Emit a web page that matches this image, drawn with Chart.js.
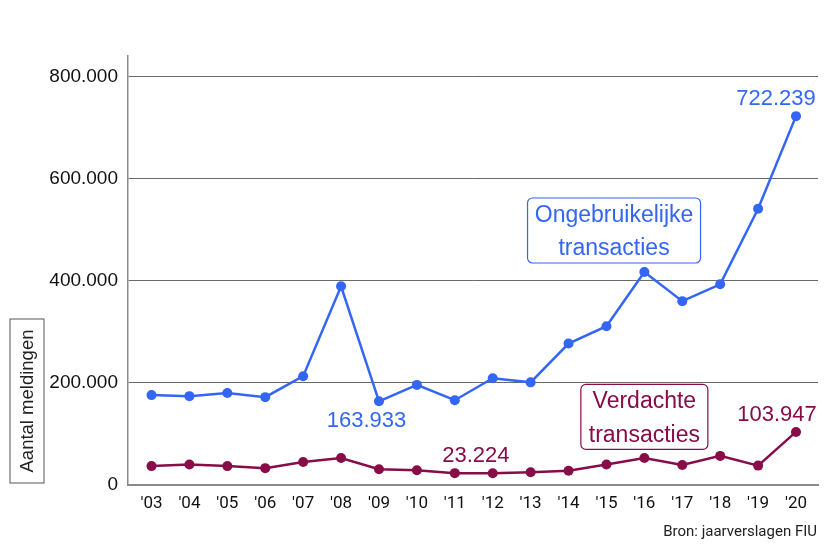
<!doctype html>
<html lang="nl">
  <head>
    <meta charset="utf-8">
    <title>Meldingen FIU</title>
    <style>
      html, body { margin: 0; padding: 0; background: #fff; }
      #wrap { width: 830px; height: 551px; position: relative; }
    </style>
  </head>
  <body>
    <div id="wrap"><canvas id="myChart"></canvas></div>

    <script src="https://cdn.jsdelivr.net/npm/chart.js@4/dist/chart.umd.min.js"></script>
    <script>
        var years = ["'03", "'04", "'05", "'06", "'07", "'08", "'09", "'10", "'11", "'12",
                     "'13", "'14", "'15", "'16", "'17", "'18", "'19", "'20"]
        var ongebruikelijk = [176000, 174000, 180000, 172000, 213000, 389000, 163933, 196000, 166000, 209000,
                              201000, 277000, 311000, 417000, 360000, 393000, 541000, 722239]
        var verdacht = [37000, 40000, 37000, 33000, 45000, 53000, 31000, 29000, 23224, 23000,
                        25000, 28000, 40000, 53000, 39000, 57000, 38000, 103947]
        var yTicks = [0, 200000, 400000, 600000, 800000]

        var blue = '#3366f5'
        var purple = '#870c47'
        var arial = '"Liberation Sans", Arial, sans-serif'
        var roboto = 'Roboto, "Liberation Sans", sans-serif'

        function nlNumber(v){
            return v.toLocaleString('de-DE')
        }

        function toPoints(arr){
            return arr.map(function(v, i){ return {x: i, y: v} })
        }

        function roundBox(ctx, x, y, w, h, r){
            ctx.beginPath()
            ctx.moveTo(x + r, y)
            ctx.arcTo(x + w, y, x + w, y + h, r)
            ctx.arcTo(x + w, y + h, x, y + h, r)
            ctx.arcTo(x, y + h, x, y, r)
            ctx.arcTo(x, y, x + w, y, r)
            ctx.closePath()
        }

        // value labels, series boxes, y title and source line
        var extras = {
            id: 'extras',
            afterDatasetsDraw: function(chart){
                var ctx = chart.ctx
                var xs = chart.scales.x, ys = chart.scales.y
                ctx.save()
                ctx.textAlign = 'center'
                ctx.textBaseline = 'middle'
                ctx.font = '22px ' + arial

                ctx.fillStyle = blue
                ctx.fillText(nlNumber(ongebruikelijk[17]), xs.getPixelForValue(17) - 20, ys.getPixelForValue(ongebruikelijk[17]) - 17)
                ctx.fillText(nlNumber(ongebruikelijk[6]), xs.getPixelForValue(6) - 12.5, ys.getPixelForValue(ongebruikelijk[6]) + 20)
                ctx.fillStyle = purple
                ctx.fillText(nlNumber(verdacht[8]), xs.getPixelForValue(8) + 21, ys.getPixelForValue(verdacht[8]) - 17)
                ctx.fillText(nlNumber(verdacht[17]), xs.getPixelForValue(17) - 19, ys.getPixelForValue(verdacht[17]) - 17)

                // series boxes
                ctx.font = '23px ' + arial
                ctx.lineWidth = 1.2
                var bx = xs.getPixelForValue(12.2), by = ys.getPixelForValue(562000)
                roundBox(ctx, bx - 86.5, by, 173, 65, 5)
                ctx.strokeStyle = blue
                ctx.stroke()
                ctx.fillStyle = blue
                ctx.fillText('Ongebruikelijke', bx, by + 17.5)
                ctx.fillText('transacties', bx, by + 50.5)

                var vx = xs.getPixelForValue(13.0), vy = ys.getPixelForValue(197000)
                roundBox(ctx, vx - 63.5, vy, 127, 65, 5)
                ctx.strokeStyle = purple
                ctx.stroke()
                ctx.fillStyle = purple
                ctx.fillText('Verdachte', vx, vy + 17.5)
                ctx.fillText('transacties', vx, vy + 51)

                // y title in a box
                ctx.translate(27, 401)
                ctx.rotate(-Math.PI / 2)
                ctx.strokeStyle = '#555'
                ctx.lineWidth = 1
                ctx.strokeRect(-82, -17, 164, 34)
                ctx.fillStyle = '#222'
                ctx.font = '18.5px ' + arial
                ctx.fillText('Aantal meldingen', 0, 1)
                ctx.restore()

                ctx.save()
                ctx.font = '15px ' + roboto
                ctx.fillStyle = '#222'
                ctx.textAlign = 'right'
                ctx.textBaseline = 'middle'
                ctx.fillText('Bron: jaarverslagen FIU', 817, 532)
                ctx.restore()
            }
        }

        var ctx = document.getElementById('myChart').getContext('2d')
        var chart = new Chart(ctx, {
            type: 'line',
            data: {
                datasets: [{
                    label: 'Ongebruikelijke transacties',
                    data: toPoints(ongebruikelijk),
                    borderColor: blue,
                    backgroundColor: blue,
                    borderWidth: 2.5,
                    pointRadius: 5,
                    pointBorderWidth: 0,
                    tension: 0
                },
                {
                    label: 'Verdachte transacties',
                    data: toPoints(verdacht),
                    borderColor: purple,
                    backgroundColor: purple,
                    borderWidth: 2.5,
                    pointRadius: 5,
                    pointBorderWidth: 0,
                    tension: 0
                }]
            },
            plugins: [extras],
            options: {
                responsive: true,
                maintainAspectRatio: false,
                animation: false,
                layout: { padding: { top: 56, right: 12, left: 0, bottom: 0 } },
                plugins: {
                    legend: { display: false },
                    tooltip: { enabled: false }
                },
                scales: {
                    x: {
                        type: 'linear',
                        min: -0.62,
                        max: 17.58,
                        afterBuildTicks: function(scale){
                            scale.ticks = years.map(function(y, i){ return {value: i} })
                        },
                        afterFit: function(scale){ scale.height = 66 },
                        grid: { display: false, drawTicks: false },
                        border: { color: '#8a8a8a', width: 2 },
                        ticks: {
                            padding: 9,
                            color: '#111',
                            font: { size: 17, family: roboto },
                            maxRotation: 0,
                            autoSkip: false,
                            callback: function(v){ return years[v] }
                        }
                    },
                    y: {
                        min: 0,
                        max: 840000,
                        afterBuildTicks: function(scale){
                            scale.ticks = yTicks.map(function(v){ return {value: v} })
                        },
                        afterFit: function(scale){ scale.width = 128 },
                        grid: {
                            color: function(c){ return c.tick.value === 0 ? 'rgba(0,0,0,0)' : '#6a6a6a' },
                            lineWidth: 1,
                            drawTicks: false
                        },
                        border: { color: '#8a8a8a', width: 1.5 },
                        ticks: {
                            padding: 10,
                            color: '#111',
                            font: { size: 19, family: arial },
                            callback: function(v){ return nlNumber(v) }
                        }
                    }
                }
            }
        })
    </script>
  </body>
</html>
